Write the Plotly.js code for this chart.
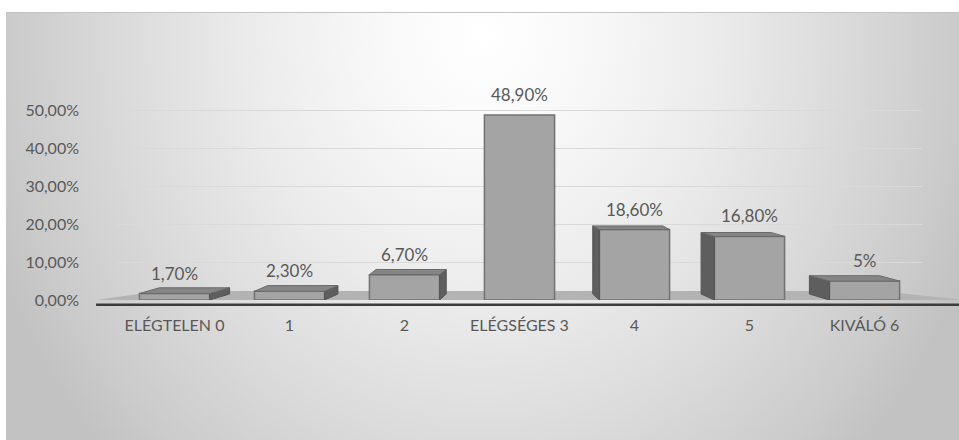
<!DOCTYPE html>
<html>
<head>
<meta charset="utf-8">
<script src="https://cdn.plot.ly/plotly-3.0.1.min.js"></script>
<style>
  html, body { margin: 0; padding: 0; background: #ffffff; }
  #wrap { position: relative; width: 959px; height: 440px; overflow: hidden; }
  #panel {
    position: absolute; left: 6px; top: 12px; width: 953px; height: 428px;
    border-top: 1px solid #c4c4c4;
    background: radial-gradient(ellipse 55% 140% at 50% 5%, #ffffff 0%, #f8f8f8 20%, #ebebeb 45%, #dcdcdc 67%, #cbcbcb 90%, #c2c2c2 100%);
  }
  #chart { position: absolute; left: 0; top: 0; width: 959px; height: 440px; }
</style>
</head>
<body>
<div id="wrap">
  <div id="panel"></div>
  <div id="chart"></div>
</div>
<script>
// Grade distribution (percent of students per grade)
const categories = ["ELÉGTELEN 0", "1", "2", "ELÉGSÉGES 3", "4", "5", "KIVÁLÓ 6"];
const values = [1.7, 2.3, 6.7, 48.9, 18.6, 16.8, 5];
const yTicks = [0, 10, 20, 30, 40, 50];

// value labels: whole numbers without decimals, others with two (comma separator)
function pctLabel(v) {
  return Number.isInteger(v) ? v + "%" : v.toFixed(2).replace(".", ",") + "%";
}
const yTickText = yTicks.map(t => t.toFixed(2).replace(".", ",") + "%");

// pseudo-3D box faces (top + visible side) drawn in data units
const halfW = 0.305;
const pxPerPct = 3.78;
const floorDepth = 6 / pxPerPct;   // depth of the box base on the floor
const vanish = 3;                  // column facing the viewer straight on
const sideX = [], sideY = [], topX = [], topY = [];
values.forEach((v, i) => {
  const dx = 0.058 * (vanish - i);
  const dy = Math.max(0, 6 - 0.125 * v) / pxPerPct;   // top face foreshortens with height
  const l = i - halfW, r = i + halfW;
  if (dy > 0.05) {
    topX.push(l, r, r + dx, l + dx, l, null);
    topY.push(v, v, v + dy, v + dy, v, null);
  }
  if (Math.abs(dx) > 0.005) {
    const e = dx > 0 ? r : l;
    sideX.push(e, e, e + dx, e + dx, e, null);
    sideY.push(0, v, v + dy, floorDepth, 0, null);
  }
});

const idx = categories.map((_, i) => i);
const fontFamily = "Lato, 'Open Sans', sans-serif";

const traces = [
  {
    type: "scatter", mode: "lines", x: sideX, y: sideY, fill: "toself",
    fillcolor: "#5e5e5e", line: { color: "#555555", width: 1 },
    hoverinfo: "skip", showlegend: false, cliponaxis: false
  },
  {
    type: "scatter", mode: "lines", x: topX, y: topY, fill: "toself",
    fillcolor: "#858585", line: { color: "#6a6a6a", width: 1 },
    hoverinfo: "skip", showlegend: false, cliponaxis: false
  },
  {
    type: "bar", x: idx, y: values, width: 2 * halfW,
    marker: { color: "#a4a4a4", line: { color: "#727272", width: 1.5 } },
    hoverinfo: "x+y", showlegend: false
  }
];

const annotations = values.map((v, i) => ({
  x: i, y: v, xref: "x", yref: "y", text: pctLabel(v), showarrow: false,
  yanchor: "bottom", yshift: 8,
  font: { family: fontFamily, size: 17, color: "#595959" }
}));

const layout = {
  width: 959, height: 440,
  paper_bgcolor: "rgba(0,0,0,0)", plot_bgcolor: "rgba(0,0,0,0)",
  margin: { l: 117, r: 37, t: 88, b: 140 },
  font: { family: fontFamily, size: 16, color: "#595959" },
  xaxis: {
    range: [-0.5, 6.5], tickvals: idx, ticktext: categories,
    showgrid: false, zeroline: false, showline: false, ticks: "",
    ticklabelstandoff: 14, fixedrange: true
  },
  yaxis: {
    range: [0, 56], tickvals: yTicks, ticktext: yTickText,
    showgrid: true, gridcolor: "#d9d9d9", gridwidth: 1, zeroline: false,
    showline: false, ticks: "", ticklabelstandoff: 37, fixedrange: true
  },
  shapes: [
    // floor plane
    {
      type: "path", xref: "paper", yref: "paper", layer: "below",
      path: "M -0.026 0 L 0.053 0.042 L 0.947 0.042 L 1.053 0 Z",
      fillcolor: "#b3b3b3", line: { width: 0 }
    },
    // front floor edge
    {
      type: "line", xref: "paper", yref: "paper",
      x0: -0.026, x1: 1.053, y0: -0.022, y1: -0.022,
      line: { color: "#3c3c3c", width: 2.5 }
    }
  ],
  annotations: annotations
};

Plotly.newPlot("chart", traces, layout, { displayModeBar: false, staticPlot: true });
</script>
</body>
</html>
